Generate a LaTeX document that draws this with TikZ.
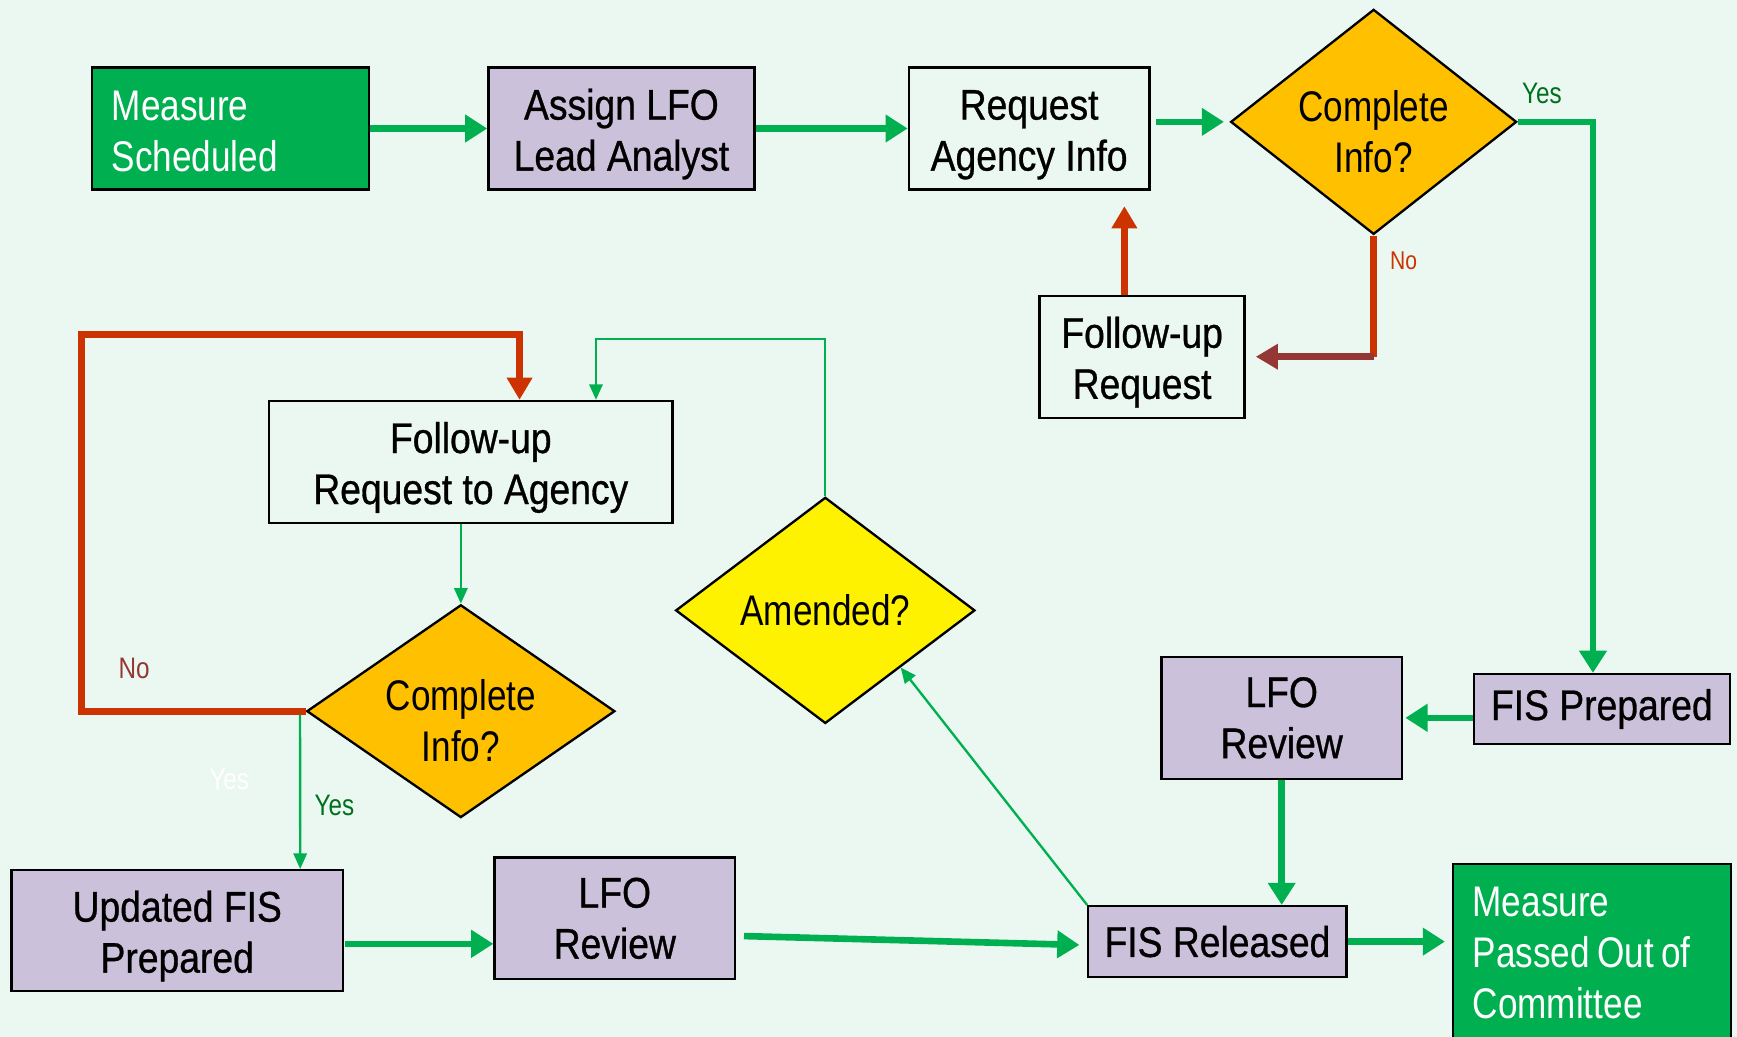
\documentclass[tikz,border=0pt]{standalone}
\usepackage{fontspec}
\setmainfont{Liberation Sans}[FakeStretch=0.82,WordSpace=0.75]
\newfontfamily\heavyfont{Liberation Sans}[FakeStretch=0.87,FakeBold=0.7]
\usetikzlibrary{shapes.geometric,arrows.meta,calc}
\definecolor{bgmint}{RGB}{235,248,241}
\definecolor{boxgreen}{RGB}{0,176,80}
\definecolor{lilac}{RGB}{204,193,218}
\definecolor{amber}{RGB}{255,192,0}
\definecolor{rust}{RGB}{204,51,0}
\definecolor{maroon}{RGB}{149,55,53}
\definecolor{yesgreen}{RGB}{0,112,30}
\newcommand{\boxstrut}{\rule{0pt}{10.8pt}}
\newcommand{\decstrut}{\rule{0pt}{13pt}}
\begin{document}
\begin{tikzpicture}[x=0.01cm,y=-0.01cm,
   plainbox/.style={draw=black,line width=0.6pt,inner sep=0pt,align=center,
      font=\heavyfont\fontsize{11}{13.1}\selectfont},
   lfobox/.style={plainbox,fill=lilac},
   endbox/.style={draw=black,line width=0.6pt,fill=boxgreen,text=white,align=flush left,
      inner xsep=0.18cm,inner ysep=0pt,font=\fontsize{11}{13.1}\selectfont},
   decision/.style={diamond,aspect=1.4,draw=black,line width=0.6pt,fill=amber,inner sep=0pt,
      align=center,font=\fontsize{11}{13.1}\selectfont},
   lbl/.style={inner sep=0pt,font=\fontsize{7.6}{8}\selectfont},
   bigline/.style={boxgreen,line width=1.7pt},
   bigarrow/.style={bigline,-{Triangle[length=0.2cm,width=0.24cm]}},
   thinarrow/.style={boxgreen,line width=0.6pt,-{Triangle[length=0.14cm,width=0.12cm]}},
   redline/.style={rust,line width=1.8pt},
   redarrow/.style={redline,-{Triangle[length=0.2cm,width=0.22cm]}}]
   \fill [bgmint] (0,0) rectangle (1568,936);
   \useasboundingbox (0,0) rectangle (1568,936);
   \node [endbox,text width=2.14cm,minimum height=1.1cm] (sched) at (208,116) {\rule{0pt}{9.1pt}Measure\\Scheduled};
   \node [lfobox,minimum width=2.4cm,minimum height=1.1cm] (assign) at (561,116) {\boxstrut Assign LFO\\Lead Analyst};
   \node [plainbox,minimum width=2.17cm,minimum height=1.1cm] (reqinfo) at (929,116) {\boxstrut Request\\Agency Info};
   \node [decision,aspect=1.25,minimum width=2.58cm,minimum height=2.03cm] (chkone) at (1240,110) {\decstrut Complete\\Info?};
   \node [plainbox,minimum width=1.85cm,minimum height=1.1cm] (fupreq) at (1031,322) {\boxstrut Follow-up\\Request};
   \node [lfobox,minimum width=2.31cm,minimum height=0.63cm] (fisprep) at (1446,640) {FIS Prepared};
   \node [lfobox,minimum width=2.17cm,minimum height=1.1cm] (reviewone) at (1157,648) {LFO\\Review};
   \node [lfobox,minimum width=2.33cm,minimum height=0.64cm] (fisrel) at (1099,850) {FIS Released};
   \node [endbox,text width=2.15cm,minimum height=1.6cm] (passed) at (1437,860) {Measure\\Passed Out of\\Committee};
   \node [lfobox,minimum width=2.17cm,minimum height=1.1cm] (reviewtwo) at (555,829) {LFO\\Review};
   \node [lfobox,minimum width=2.99cm,minimum height=1.09cm] (updfis) at (160,840) {\boxstrut Updated FIS\\Prepared};
   \node [decision,aspect=1.45,minimum width=2.78cm,minimum height=1.92cm] (chktwo) at (416,642) {\decstrut Complete\\Info?};
   \node [plainbox,minimum width=3.64cm,minimum height=1.1cm] (fupagency) at (425,417) {\boxstrut Follow-up\\Request to Agency};
   \node [decision,fill=yellow,minimum width=2.7cm,minimum height=2.04cm] (amended) at (745,551) {Amended?};
   \node [lbl,text=yesgreen] (yesone) at (1392,84) {Yes};
   \node [lbl,text=rust,font=\fontsize{6.6}{7}\selectfont] (noone) at (1267,235) {No};
   \node [lbl,text=maroon] (notwo) at (121,603) {No};
   \node [lbl,text=yesgreen] (yestwo) at (302,727) {Yes};
   \node [lbl,text=white] (yesghost) at (207,704) {Yes};
   \coordinate (redbase) at ($(fupreq.north)+(-16,0)$);
   \coordinate (updout) at ($(updfis.east)+(1,12)$);
   \draw [bigarrow] (sched.east) -- (assign.west);
   \draw [bigarrow] (assign.east) -- (reqinfo.west);
   \draw [bigarrow,shorten <=0.05cm,shorten >=0.05cm] (reqinfo.east |- chkone.west) -- (chkone.west);
   \draw [bigarrow] (chkone.east) -| ($(fisprep.north)+(-8,0)$);
   \draw [redline] (chkone.south) -- (chkone.south |- fupreq.east);
   \draw [maroon,line width=1.8pt,-{Triangle[length=0.2cm,width=0.22cm]},shorten >=0.09cm]
      (chkone.south |- fupreq.east) -- (fupreq.east);
   \draw [redarrow,shorten >=0.14cm] (redbase) -- (redbase |- reqinfo.south);
   \draw [bigarrow,shorten >=0.02cm] (fisprep.west |- reviewone.east) -- (reviewone.east);
   \draw [bigarrow] (reviewone.south) -- (reviewone.south |- fisrel.north);
   \draw [bigarrow,shorten >=0.06cm] (fisrel.east) -- (fisrel.east -| passed.west);
   \draw [bigarrow] ($(reviewtwo.east)+(7,16)$) -- ($(fisrel.west)+(-7,3)$);
   \draw [bigarrow] (updout) -- (updout -| reviewtwo.west);
   \draw [thinarrow] (fisrel.north west) -- (amended.south east);
   \draw [thinarrow] (amended.north) -- ++(0,-142) -| ($(fupagency.north)+(113,0)$);
   \draw [thinarrow] (fupagency.south -| chktwo.north) -- (chktwo.north);
   \draw [redarrow] (chktwo.west) -- ++(-202,0) -- ++(0,-340) -| ($(fupagency.north)+(44,0)$);
   \draw [thinarrow] ($(chktwo.west)+(-5,3)$) -- ($(updfis.north)+(111,0)$);
\end{tikzpicture}
\end{document}
